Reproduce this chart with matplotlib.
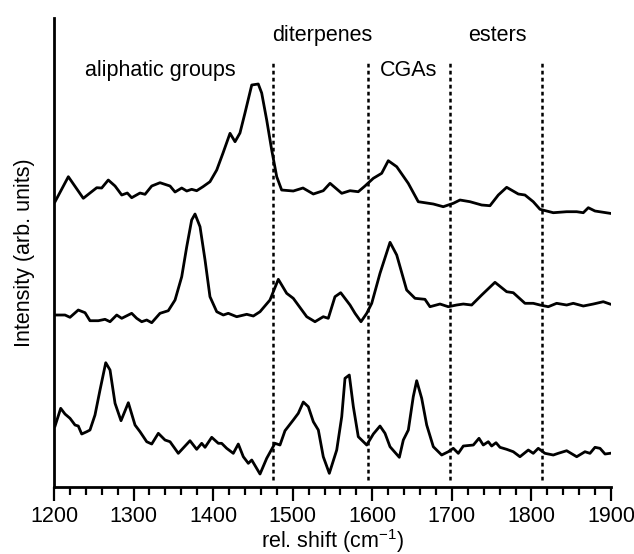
import numpy as np
import matplotlib
matplotlib.use("Agg")
import matplotlib.pyplot as plt

plt.rcParams['font.family'] = ['Liberation Sans', 'DejaVu Sans']
plt.rcParams['mathtext.fontset'] = 'custom'
plt.rcParams['mathtext.rm'] = 'Liberation Sans'
plt.rcParams['mathtext.it'] = 'Liberation Sans:italic'

# top spectrum
top_x = [1201.3, 1218.0, 1236.8, 1245.2, 1253.7, 1259.9, 1268.2, 1276.7, 1285.1, 1292.1,
         1297.6, 1308.1, 1314.4, 1322.8, 1333.2, 1345.8, 1352.1, 1360.5, 1366.8, 1373.0,
         1379.3, 1387.2, 1396.0, 1404.5, 1412.4, 1421.2, 1427.5, 1433.7, 1440.0, 1448.5,
         1456.7, 1461.0, 1467.3, 1473.6, 1479.9, 1486.1, 1500.7, 1512.9, 1525.9, 1538.4,
         1546.9, 1561.6, 1572.0, 1582.4, 1590.8, 1601.3, 1611.8, 1620.1, 1630.7, 1645.2,
         1657.8, 1676.7, 1689.2, 1701.8, 1710.2, 1722.8, 1737.5, 1747.9, 1758.4, 1768.9,
         1783.5, 1791.9, 1802.3, 1810.8, 1827.5, 1844.3, 1856.9, 1865.2, 1871.5, 1879.9,
         1898.7]
top_y = [285.3, 310.3, 288.7, 294.0, 299.3, 299.0, 307.0, 301.0, 292.0, 294.0,
         289.3, 294.0, 292.7, 301.0, 304.3, 301.0, 295.0, 299.0, 296.0, 297.7,
         296.3, 300.3, 305.3, 317.0, 334.0, 353.7, 345.3, 354.0, 374.0, 402.0,
         403.0, 394.0, 367.0, 337.0, 310.3, 297.0, 296.0, 299.0, 293.0, 296.3,
         303.7, 293.7, 296.3, 295.3, 301.0, 308.7, 313.7, 326.3, 320.3, 303.7,
         285.3, 283.0, 280.3, 283.7, 287.0, 285.3, 282.0, 281.3, 292.0, 299.7,
         293.0, 292.0, 285.3, 277.7, 274.3, 275.3, 275.3, 274.3, 279.3, 276.0,
         273.7]

# middle spectrum
mid_x = [1201.3, 1213.8, 1220.1, 1230.5, 1239.0, 1245.2, 1255.7, 1264.1, 1270.4, 1278.8,
         1285.1, 1297.6, 1303.9, 1310.2, 1316.5, 1322.8, 1333.2, 1343.6, 1352.1, 1360.5,
         1366.8, 1373.0, 1377.2, 1383.5, 1389.8, 1396.0, 1404.5, 1412.8, 1419.0, 1429.6,
         1442.2, 1450.5, 1458.9, 1471.4, 1481.9, 1492.4, 1500.7, 1517.6, 1528.0, 1538.4,
         1544.7, 1553.1, 1560.3, 1572.0, 1578.3, 1585.8, 1593.0, 1599.3, 1609.7, 1622.3,
         1630.7, 1643.2, 1653.7, 1666.2, 1672.5, 1685.1, 1695.5, 1706.0, 1714.4, 1724.9,
         1737.5, 1754.2, 1768.9, 1777.2, 1791.9, 1802.3, 1810.8, 1821.2, 1831.7, 1844.3,
         1852.6, 1865.2, 1877.8, 1890.3, 1898.7]
mid_y = [172.0, 172.0, 169.7, 177.0, 174.3, 166.3, 166.3, 167.7, 165.3, 172.0,
         168.7, 173.7, 168.7, 165.3, 167.0, 164.3, 173.7, 176.3, 187.0, 210.3,
         240.3, 267.0, 273.0, 260.3, 227.0, 190.3, 175.3, 172.0, 173.7, 170.3,
         172.7, 171.0, 175.3, 187.0, 207.7, 193.7, 188.7, 170.3, 165.3, 170.3,
         168.7, 190.3, 194.3, 182.0, 173.7, 165.3, 173.7, 183.7, 213.7, 244.7,
         232.0, 197.0, 188.7, 187.7, 180.3, 183.0, 180.3, 182.0, 183.0, 182.0,
         192.0, 204.7, 195.3, 194.3, 183.7, 183.7, 182.0, 180.3, 183.7, 182.0,
         183.7, 181.0, 183.0, 185.3, 183.0]

# bottom spectrum
bot_x = [1201.3, 1208.4, 1213.8, 1220.1, 1226.4, 1230.5, 1234.8, 1241.1, 1245.2, 1251.5,
         1257.8, 1265.0, 1270.4, 1276.7, 1284.2, 1293.4, 1301.8, 1308.1, 1316.5, 1322.8,
         1331.1, 1339.5, 1345.8, 1356.2, 1370.9, 1379.3, 1385.6, 1389.8, 1398.2, 1406.5,
         1410.7, 1417.0, 1425.3, 1431.6, 1437.9, 1444.2, 1448.5, 1458.9, 1467.3, 1477.7,
         1484.0, 1490.3, 1500.7, 1507.0, 1513.3, 1519.6, 1525.9, 1532.2, 1538.4, 1546.0,
         1555.3, 1561.6, 1565.7, 1571.1, 1576.2, 1582.4, 1593.0, 1601.3, 1609.7, 1616.0,
         1622.3, 1634.0, 1639.0, 1645.3, 1651.5, 1655.8, 1662.1, 1668.4, 1676.7, 1687.2,
         1695.5, 1701.8, 1708.1, 1714.4, 1727.0, 1734.1, 1739.5, 1745.8, 1750.0, 1755.5,
         1760.5, 1768.9, 1777.2, 1785.6, 1796.1, 1802.3, 1808.6, 1817.0, 1827.5, 1833.7,
         1844.3, 1856.9, 1867.3, 1873.6, 1879.9, 1886.2, 1892.5, 1898.7]
bot_y = [61.0, 78.7, 73.0, 68.7, 62.0, 61.0, 53.0, 55.3, 57.0, 72.0,
         97.0, 124.3, 117.0, 83.7, 66.3, 84.3, 62.0, 55.3, 45.3, 43.0,
         53.7, 47.0, 45.3, 33.7, 46.3, 37.7, 43.7, 39.7, 49.7, 43.7,
         43.7, 38.7, 33.7, 43.0, 30.3, 23.7, 27.0, 13.0, 28.7, 43.7,
         42.0, 56.3, 67.0, 73.7, 85.0, 80.3, 65.3, 57.0, 30.3, 13.7,
         37.0, 70.3, 108.7, 112.0, 80.3, 50.3, 42.0, 53.0, 61.0, 53.7,
         40.3, 29.7, 47.0, 57.0, 90.3, 106.3, 88.7, 62.0, 40.3, 32.0,
         35.3, 38.7, 33.7, 41.0, 42.0, 48.7, 42.0, 45.3, 41.0, 44.3,
         39.7, 37.7, 35.3, 30.3, 37.0, 33.7, 38.7, 33.7, 32.0, 33.7,
         36.3, 30.3, 35.3, 33.7, 39.7, 38.7, 33.0, 33.7]

# band region borders and labels
borders = [1475, 1595, 1698, 1813]
region_labels = ["aliphatic groups", "diterpenes", "CGAs", "esters"]
label_x = [1333, 1537, 1645, 1757]
label_y = [417, 452, 417, 452]

fig = plt.figure(figsize=(6.34, 5.54), dpi=100)
ax = fig.add_axes([0.0852, 0.1209, 0.8785, 0.8466])

for xs, ys in [(top_x, top_y), (mid_x, mid_y), (bot_x, bot_y)]:
    ax.plot(xs, ys, color='black', lw=2.0, solid_joinstyle='round')

for b in borders:
    ax.plot([b, b], [7, 427], color='black', lw=1.8, dashes=(1.5, 1.3))

for txt, lx, ly in zip(region_labels, label_x, label_y):
    ax.text(lx, ly, txt, ha='center', va='center', fontsize=15.5)

ax.set_xlim(1200, 1900)
ax.set_ylim(0, 469)
ax.set_xticks(np.arange(1200, 1901, 100))
ax.set_xticks(np.arange(1200, 1901, 20), minor=True)
ax.set_yticks([])
ax.tick_params(axis='x', which='major', direction='out', length=10, width=1.6,
               labelsize=15.5, pad=4)
ax.tick_params(axis='x', which='minor', direction='out', length=5.5, width=1.6)
for s in ['top', 'right']:
    ax.spines[s].set_visible(False)
for s in ['left', 'bottom']:
    ax.spines[s].set_linewidth(2.0)

ax.set_xlabel('rel. shift (cm$^{-1}$)', fontsize=15.5, labelpad=0)
ax.set_ylabel('Intensity (arb. units)', fontsize=15.5, labelpad=14)

fig.savefig('out.png', dpi=100)
